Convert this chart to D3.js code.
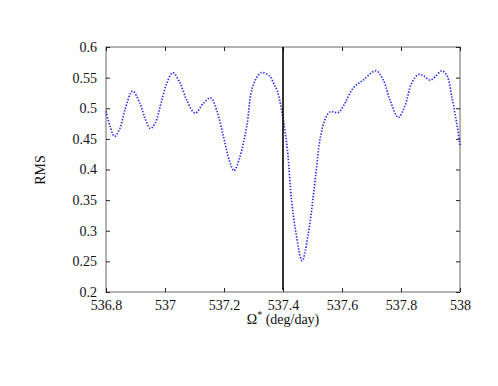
<!DOCTYPE html>
<html>
<head>
<meta charset="utf-8">
<script src="https://cdn.jsdelivr.net/npm/d3@7"></script>
<style>
  body { margin: 0; background: #fff; }
  svg text { font-family: "Liberation Serif", "Times New Roman", "DejaVu Serif", serif !important; }
</style>
</head>
<body>
<svg id="chart" width="498" height="386"></svg>
<script>
const omega = [536.800, 536.814, 536.829, 536.847, 536.864, 536.890, 536.915, 536.932, 536.950, 536.966,
  536.989, 537.006, 537.027, 537.051, 537.074, 537.102, 537.130, 537.155, 537.175, 537.198,
  537.218, 537.234, 537.254, 537.277, 537.297, 537.326, 537.356, 537.368, 537.381, 537.401,
  537.415, 537.429, 537.444, 537.465, 537.486, 537.501, 537.514, 537.525, 537.542, 537.559,
  537.587, 537.604, 537.638, 537.672, 537.715, 537.740, 537.763, 537.791, 537.814, 537.836,
  537.859, 537.876, 537.898, 537.915, 537.938, 537.955, 537.972, 537.989, 538.000];
const rms = [0.495, 0.470, 0.454, 0.467, 0.497, 0.528, 0.508, 0.484, 0.467, 0.475,
  0.513, 0.541, 0.558, 0.541, 0.513, 0.492, 0.508, 0.517, 0.497, 0.454,
  0.415, 0.398, 0.421, 0.470, 0.535, 0.558, 0.552, 0.541, 0.528, 0.481,
  0.432, 0.350, 0.296, 0.251, 0.296, 0.350, 0.404, 0.448, 0.481, 0.494,
  0.493, 0.503, 0.533, 0.546, 0.561, 0.546, 0.513, 0.485, 0.505, 0.541,
  0.555, 0.553, 0.546, 0.551, 0.561, 0.554, 0.519, 0.475, 0.440];
const xTicks = [536.8, 537, 537.2, 537.4, 537.6, 537.8, 538];
const xTickLabels = ["536.8", "537", "537.2", "537.4", "537.6", "537.8", "538"];
const yTicks = [0.2, 0.25, 0.3, 0.35, 0.4, 0.45, 0.5, 0.55, 0.6];
const yTickLabels = ["0.2", "0.25", "0.3", "0.35", "0.4", "0.45", "0.5", "0.55", "0.6"];
const markerOmega = 537.4;

const FONT = '"Liberation Serif", "Times New Roman", serif';
const svg = d3.select("#chart");
const L = 106, T = 47, W = 354, H = 245;
const x = d3.scaleLinear().domain([536.8, 538]).range([0, W]);
const y = d3.scaleLinear().domain([0.2, 0.6]).range([H, 0]);
const g = svg.append("g").attr("transform", `translate(${L},${T})`);
const axisColor = "#666";
const tl = 4;

g.append("rect").attr("x", 0).attr("y", 0).attr("width", W).attr("height", H)
  .attr("fill", "none").attr("stroke", axisColor).attr("stroke-width", 1);

function styleAxis(sel) {
  sel.attr("font-family", FONT).attr("font-size", 14);
  sel.select(".domain").remove();
  sel.selectAll(".tick line").attr("stroke", "#222").attr("stroke-width", 1);
  sel.selectAll(".tick text").attr("fill", "#111");
}

const xb = g.append("g").attr("transform", `translate(0,${H})`)
  .call(d3.axisBottom(x).tickValues(xTicks).tickSizeInner(-tl).tickSizeOuter(0).tickPadding(8)
    .tickFormat((d, i) => xTickLabels[i]));
styleAxis(xb);
const xt = g.append("g")
  .call(d3.axisTop(x).tickValues(xTicks).tickSizeInner(-tl).tickSizeOuter(0).tickFormat(""));
styleAxis(xt);
const yl = g.append("g")
  .call(d3.axisLeft(y).tickValues(yTicks).tickSizeInner(-tl).tickSizeOuter(0).tickPadding(9)
    .tickFormat((d, i) => yTickLabels[i]));
styleAxis(yl);
const yr = g.append("g").attr("transform", `translate(${W},0)`)
  .call(d3.axisRight(y).tickValues(yTicks).tickSizeInner(-tl).tickSizeOuter(0).tickFormat(""));
styleAxis(yr);

const pts = omega.map((o, i) => [o, rms[i]]);
const line = d3.line().x(d => x(d[0])).y(d => y(d[1])).curve(d3.curveCatmullRom.alpha(0.5));
g.append("path").datum(pts).attr("d", line)
  .attr("fill", "none").attr("stroke", "#2b2bf5").attr("stroke-width", 1.7)
  .attr("stroke-dasharray", "1.4,1.6");

g.append("line").attr("x1", x(markerOmega)).attr("x2", x(markerOmega))
  .attr("y1", 0).attr("y2", H - 2).attr("stroke", "#000").attr("stroke-width", 1.6);

svg.append("text").attr("x", 283).attr("y", 324).attr("text-anchor", "middle")
  .attr("font-family", FONT).attr("font-size", 14).attr("fill", "#111")
  .html('Ω<tspan dy="-6" font-size="10">*</tspan><tspan dy="6"> (deg/day)</tspan>');
svg.append("text").attr("transform", "translate(45,170) rotate(-90)").attr("text-anchor", "middle")
  .attr("font-family", FONT).attr("font-size", 14).attr("fill", "#111").text("RMS");
</script>
</body>
</html>
